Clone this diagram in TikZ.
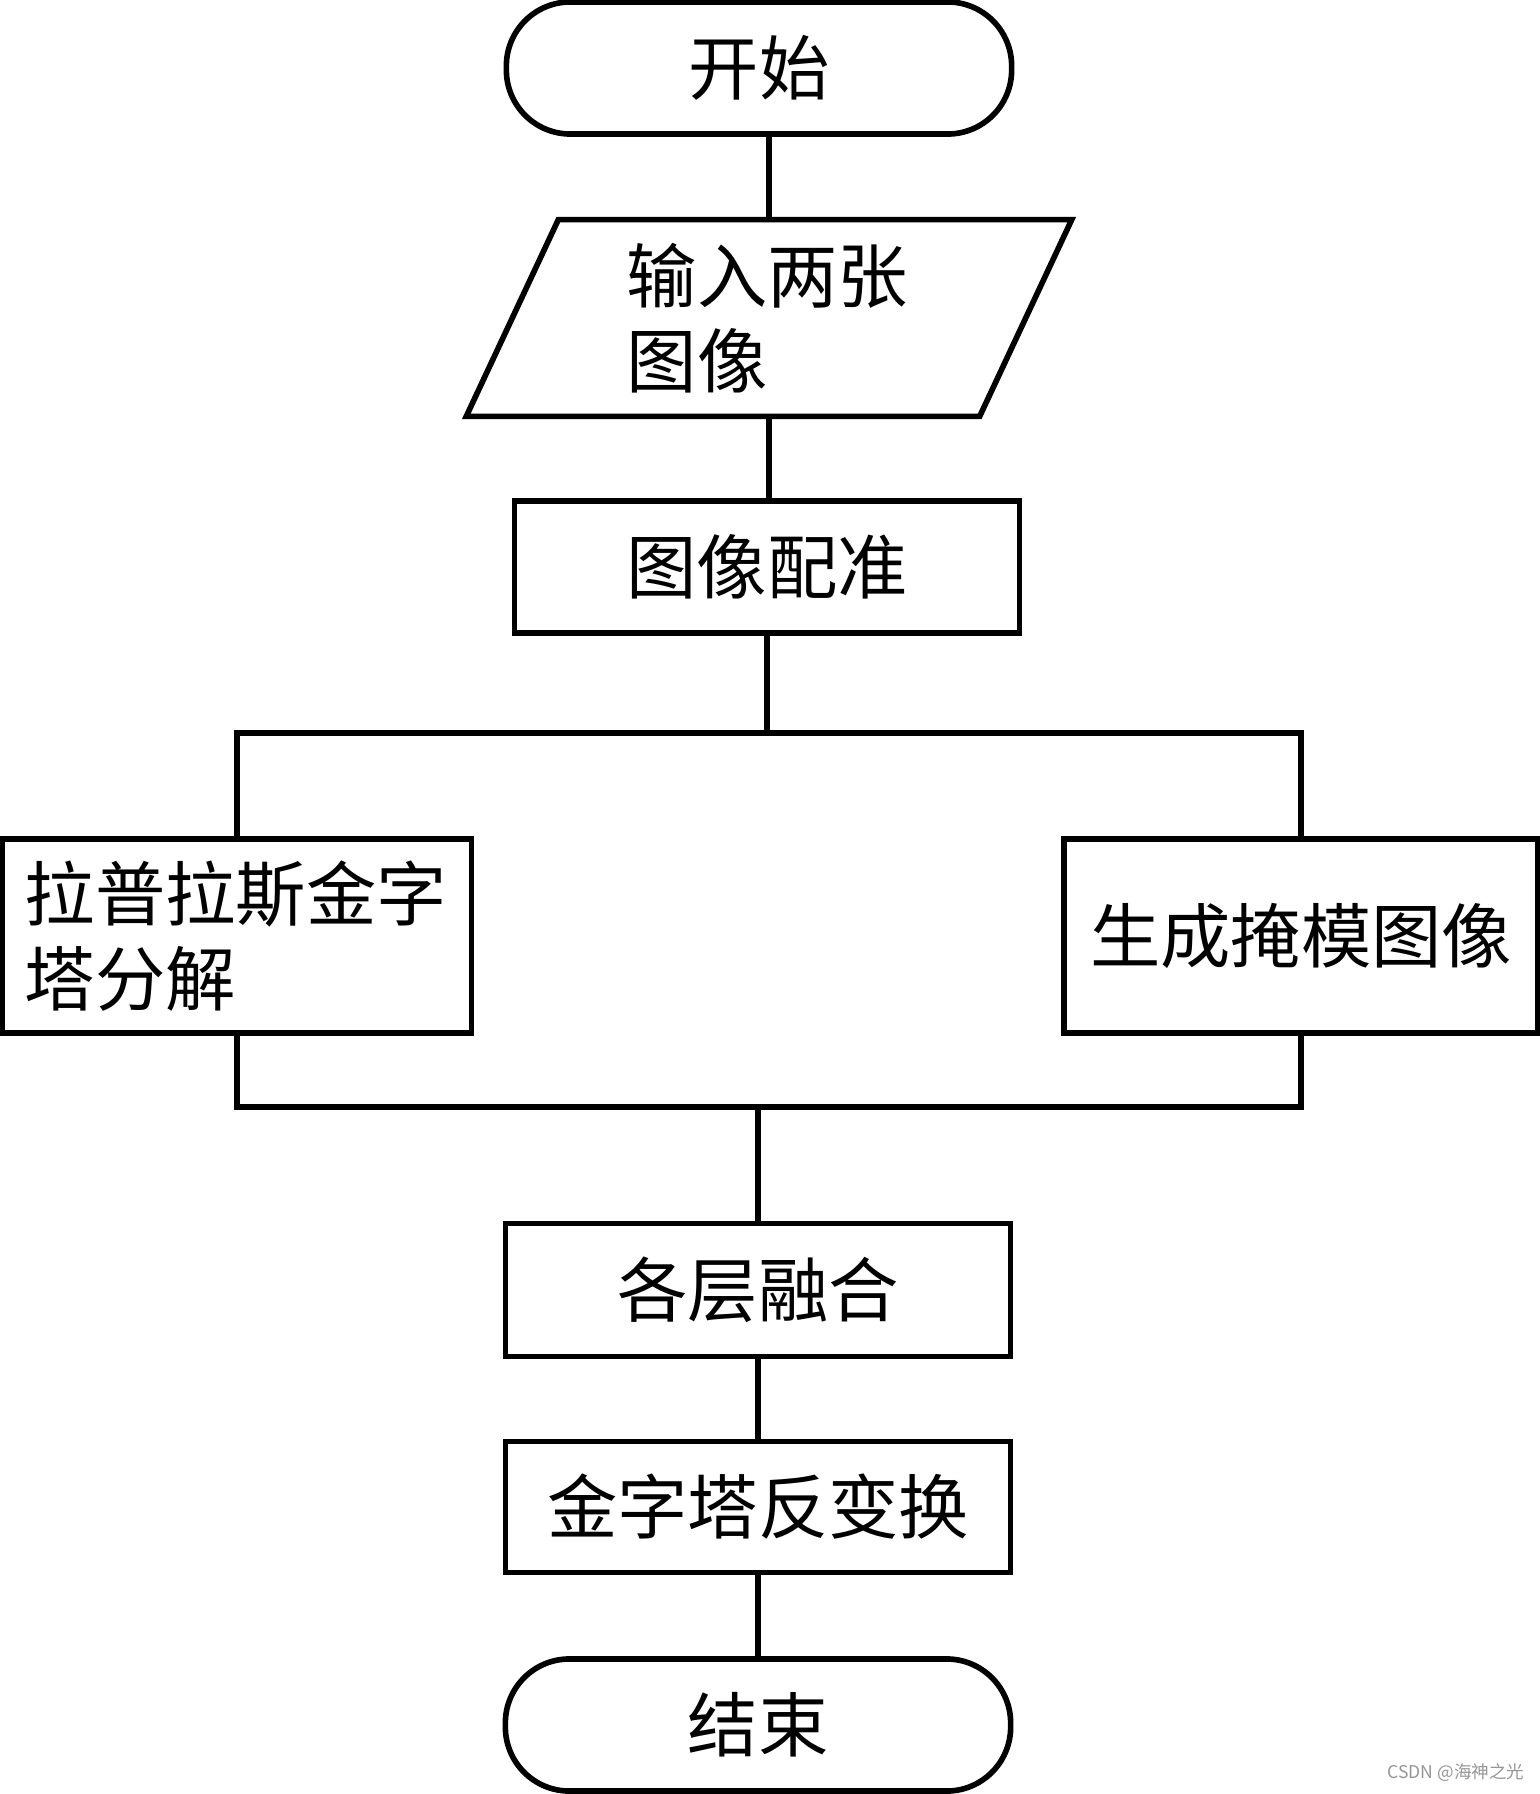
\documentclass[tikz,border=0pt]{standalone}
\usepackage{fontspec}
\newfontfamily\cjk{Noto Sans CJK SC}
\usepackage{tikz}
\usetikzlibrary{positioning,calc}
\definecolor{MarkGray}{RGB}{150,150,150}

\begin{document}
\begin{tikzpicture}[x=0.01cm,y=-0.01cm,
  box/.style={draw,line width=1.6pt,minimum width=5.05cm,minimum height=1.32cm,
              inner sep=0pt,align=center,font=\cjk\fontsize{20}{24.2}\selectfont},
  term/.style={box,rounded corners=0.64cm},
  wide/.style={box,minimum width=4.72cm,minimum height=1.94cm},
  conn/.style={line width=1.6pt},
]
\useasboundingbox (0,0) rectangle (1540,1794);
\node[term] (start) at (759,68) {开始};
\node[box,draw=none,minimum width=5.075cm,minimum height=1.91cm,
      text width=2.84cm,align=left] (input) at (769,318) {输入两张\\图像};
\draw[conn] ([xshift=0.46cm]input.north west) -- ([xshift=0.46cm]input.north east)
  -- ([xshift=-0.46cm]input.south east) -- ([xshift=-0.46cm]input.south west) -- cycle;
\node[box] (reg) at (767,567) {图像配准};
\node[wide,minimum width=4.69cm,text width=4.24cm,align=left] (lap) at (237,936)
  {拉普拉斯金字\\塔分解};
\node[wide,minimum width=4.74cm] (mask) at (1301,936) {生成掩模图像};
\node[box,minimum height=1.33cm] (fuse) at (758,1290) {各层融合};
\node[box,minimum height=1.31cm] (inv) at (758,1507) {金字塔反变换};
\node[term] (end) at (758,1725) {结束};
\coordinate (split) at (767,733);
\coordinate (merge) at (758,1107);
\draw[conn] (input.north) -- (input.north |- start.south);
\draw[conn] (input.south) -- (input.south |- reg.north);
\draw[conn] (reg.south) -- (split);
\draw[conn] (lap.north) |- (split) -| (mask.north);
\draw[conn] (lap.south) |- (merge) -| (mask.south);
\draw[conn] (merge) -- (fuse.north);
\draw[conn] (fuse) -- (inv);
\draw[conn] (inv) -- (end);
\node[font=\cjk\fontsize{5}{6}\selectfont,text=MarkGray,inner sep=0pt] (mark) at (1456,1773)
  {CSDN @海神之光};
\end{tikzpicture}
\end{document}
